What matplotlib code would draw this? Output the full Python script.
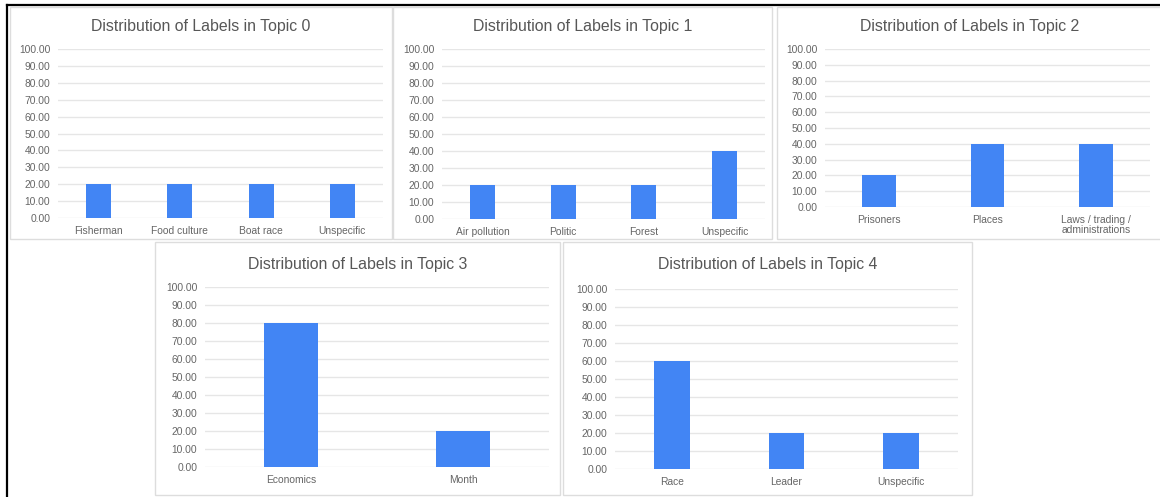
import matplotlib
matplotlib.use("Agg")
import matplotlib.pyplot as plt
from matplotlib.patches import Rectangle
from matplotlib.lines import Line2D

plt.rcParams['font.family'] = ['Liberation Sans', 'DejaVu Sans']

# Label distributions per topic (percent)
topic0_labels = ["Fisherman", "Food culture", "Boat race", "Unspecific"]
topic0_values = [20, 20, 20, 20]
topic1_labels = ["Air pollution", "Politic", "Forest", "Unspecific"]
topic1_values = [20, 20, 20, 40]
topic2_labels = ["Prisoners", "Places", "Laws / trading /\nadministrations"]
topic2_values = [20, 40, 40]
topic3_labels = ["Economics", "Month"]
topic3_values = [80, 20]
topic4_labels = ["Race", "Leader", "Unspecific"]
topic4_values = [60, 20, 20]
y_ticks = [0, 10, 20, 30, 40, 50, 60, 70, 80, 90, 100]

W, H = 1160, 497
DPI = 100
BAR_COLOR = "#4285F4"
GRID_COLOR = "#e6e6e6"
TEXT_COLOR = "#666666"
TITLE_COLOR = "#575757"
FRAME_COLOR = "#dddddd"

fig = plt.figure(figsize=(W / DPI, H / DPI), dpi=DPI)
fig.patch.set_facecolor("white")


def px_rect(x0, y0, x1, y1):
    """Figure-fraction rectangle from pixel corners (origin top-left)."""
    return [x0 / W, 1 - y1 / H, (x1 - x0) / W, (y1 - y0) / H]


def card(x0, y0, x1, y1):
    fig.patches.append(Rectangle((x0 / W, 1 - y1 / H), (x1 - x0) / W, (y1 - y0) / H,
                                 transform=fig.transFigure, facecolor="white",
                                 edgecolor=FRAME_COLOR, linewidth=1.0, zorder=-5))


def panel(labels, values, title, plot_px, card_px, title_y):
    card(*card_px)
    x0, ytop, x1, ybot = plot_px
    ax = fig.add_axes(px_rect(x0, ytop, x1, ybot))
    ax.set_zorder(2)
    ax.set_facecolor("none")
    n = len(labels)
    ax.bar(range(n), values, width=0.31, color=BAR_COLOR, zorder=3)
    ax.set_xlim(-0.5, n - 0.5)
    ax.set_ylim(0, 100)
    ax.set_yticks(y_ticks)
    ax.set_yticklabels([f"{v:.2f}" for v in y_ticks])
    ax.set_xticks(range(n))
    ax.set_xticklabels(labels, linespacing=1.05)
    for v in y_ticks:
        ax.axhline(v, color=GRID_COLOR, linewidth=1.0, zorder=1)
    for s in ax.spines.values():
        s.set_visible(False)
    ax.tick_params(axis="y", length=0, pad=5.5, labelsize=7.4, labelcolor=TEXT_COLOR)
    ax.tick_params(axis="x", length=0, pad=5.5, labelsize=7.4, labelcolor=TEXT_COLOR)
    cx = (card_px[0] + card_px[2]) / 2
    fig.text(cx / W, 1 - title_y / H, title, ha="center", va="center",
             fontsize=11.4, color=TITLE_COLOR, zorder=3)
    return ax


panel(topic0_labels, topic0_values, "Distribution of Labels in Topic 0",
      (58, 49, 383, 218), (10, 7, 392, 239), 26)
panel(topic1_labels, topic1_values, "Distribution of Labels in Topic 1",
      (442, 49, 765, 219), (393, 7, 772, 239), 26)
panel(topic2_labels, topic2_values, "Distribution of Labels in Topic 2",
      (825, 49, 1150, 207), (777, 7, 1162, 239), 27)
panel(topic3_labels, topic3_values, "Distribution of Labels in Topic 3",
      (205, 287, 549, 467), (155, 242, 560, 495), 265)
panel(topic4_labels, topic4_values, "Distribution of Labels in Topic 4",
      (615, 289, 958, 469), (563, 242, 972, 495), 265)

# outer frame: top and left edges
fig.lines.append(Line2D([7 / W, 1.0], [1 - 5 / H, 1 - 5 / H], transform=fig.transFigure,
                        color="black", linewidth=1.6, zorder=4))
fig.lines.append(Line2D([7 / W, 7 / W], [0.0, 1 - 5 / H], transform=fig.transFigure,
                        color="black", linewidth=1.6, zorder=4))

fig.savefig("out.png", dpi=DPI, facecolor="white")
